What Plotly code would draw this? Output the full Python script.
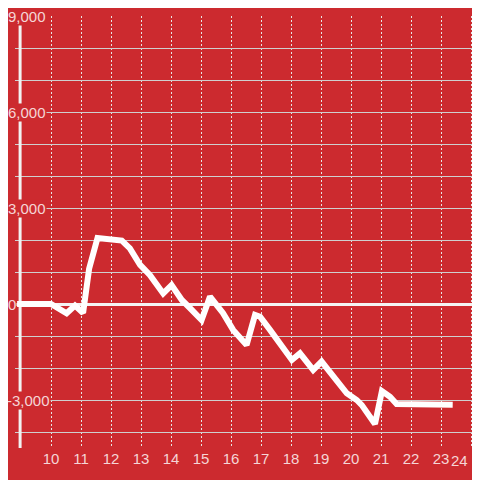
import plotly.graph_objects as go

# Data
x_vals = [8.87, 10.0, 10.52, 10.8, 11.07, 11.27, 11.55, 11.97, 12.36, 12.63,
          12.97, 13.3, 13.74, 14.02, 14.36, 14.63, 15.02, 15.3, 15.73, 16.07,
          16.52, 16.8, 16.97, 17.3, 17.63, 18.03, 18.3, 18.74, 19.02, 19.41,
          19.86, 20.19, 20.36, 20.8, 21.03, 21.3, 21.52, 23.39]
y_vals = [0, 0, -290, -50, -280, 1100, 2060, 2000, 1980, 1740,
          1220, 900, 330, 590, 125, -125, -500, 230, -280, -810,
          -1280, -340, -400, -810, -1220, -1750, -1540, -2060, -1800, -2270,
          -2790, -3000, -3160, -3750, -2720, -2900, -3125, -3150]

x_ticks = list(range(10, 25))
x_tick_text = [str(v) for v in x_ticks]
y_ticks = [9000, 6000, 3000, 0, -3000]
y_tick_text = ["9,000", "6,000", "3,000", "0", "-3,000"]

RED = "#cc2a2f"
TXT = "#f5d5d6"
FONT = "Liberation Sans, Arial, sans-serif"

X_MIN, X_MAX = 8.8, 24.3
Y_MIN, Y_MAX = -4500, 9000
AXIS_X = 8.97
PX = 1 / 30  # one pixel in x data units

fig = go.Figure()
fig.add_trace(go.Scatter(
    x=x_vals, y=y_vals, mode="lines",
    line=dict(color="white", width=6),
    hoverinfo="skip", showlegend=False,
))

annotations = []
for v, t in zip(y_ticks, y_tick_text):
    if v == 0:
        xr = X_MIN + 2 * PX
    elif v < 0:
        xr = X_MIN + 36 * PX
    else:
        xr = X_MIN + 31.5 * PX
    annotations.append(dict(
        x=xr, xref="x", y=v, yref="y", text=t, showarrow=False,
        xanchor="right", yanchor="middle",
        bgcolor=RED, borderpad=0,
        font=dict(family=FONT, size=15, color=TXT),
    ))

# last x tick label would fall past the visible edge: draw it nudged left
shown_text = x_tick_text[:-1] + [""]
annotations.append(dict(
    x=x_ticks[-1], xref="x", y=0, yref="paper", yshift=-2,
    text=x_tick_text[-1], showarrow=False, xanchor="right", yanchor="top",
    xshift=-1, font=dict(family=FONT, size=15, color=TXT),
))

fig.update_layout(
    width=480, height=480,
    paper_bgcolor=RED, plot_bgcolor=RED,
    margin=dict(l=7, r=8, t=8, b=40, pad=0),
    showlegend=False,
    font=dict(family=FONT, size=15, color=TXT),
    xaxis=dict(
        range=[X_MIN, X_MAX], tickvals=x_ticks, ticktext=shown_text,
        showgrid=True, gridcolor="#e6e6e6", gridwidth=1, griddash="2px,2px",
        zeroline=False, showline=False, ticks="", automargin=False,
        ticklabeloverflow="allow",
        tickfont=dict(family=FONT, size=15, color=TXT),
    ),
    yaxis=dict(
        range=[Y_MIN, Y_MAX], tick0=0, dtick=1000, automargin=False,
        showticklabels=False, showgrid=True, gridcolor="#cfcfcf", gridwidth=1,
        zeroline=True, zerolinecolor="#f4f4f4", zerolinewidth=3,
        showline=False, ticks="",
    ),
    shapes=[
        dict(type="rect", xref="x", yref="paper", x0=X_MIN, x1=AXIS_X - 0.04,
             y0=0, y1=1, fillcolor=RED, line=dict(width=0), layer="between"),
        dict(type="line", xref="x", yref="y", x0=AXIS_X, x1=AXIS_X,
             y0=Y_MIN, y1=Y_MAX, line=dict(color="#f2f2f2", width=3),
             layer="between"),
    ],
    annotations=annotations,
)

fig.write_html("out.html")
